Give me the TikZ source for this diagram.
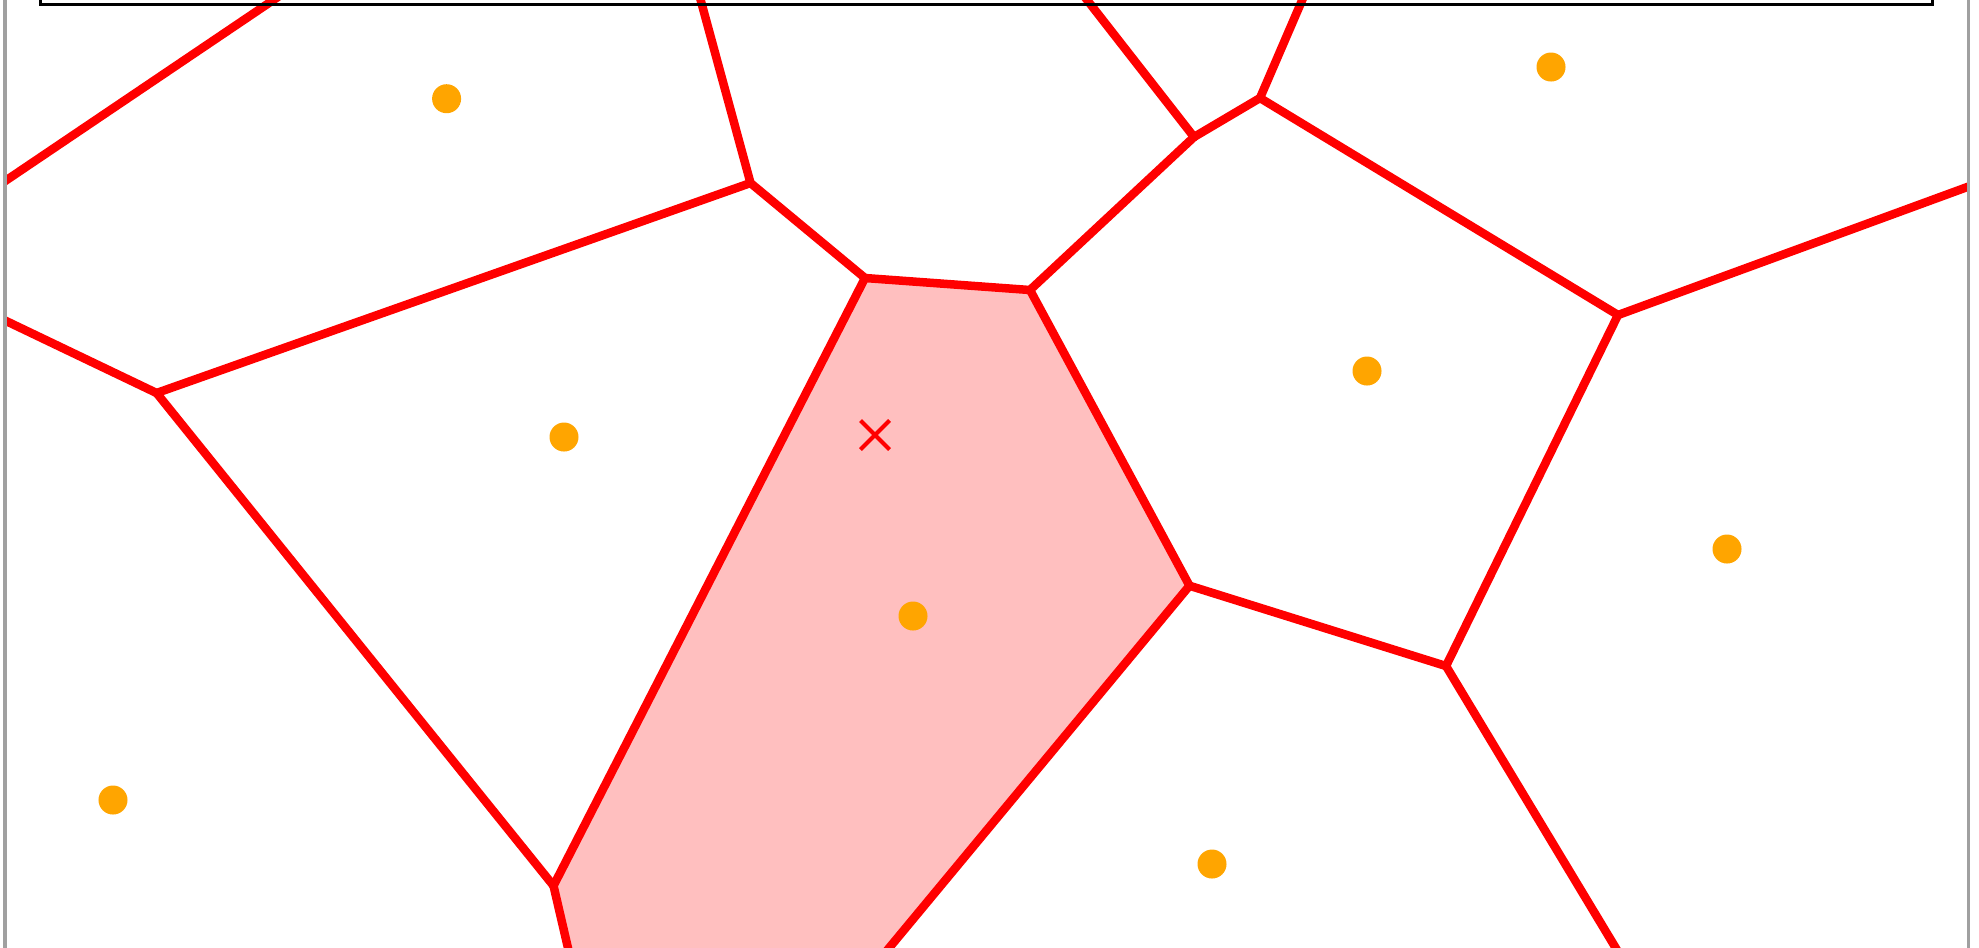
\documentclass[tikz,border=0pt]{standalone}
\usetikzlibrary{shapes.misc}
\definecolor{siteorange}{RGB}{255,165,0}
\definecolor{framegray}{RGB}{160,160,160}
\begin{document}
\begin{tikzpicture}[x=0.01cm,y=-0.01cm,
  vedge/.style={draw=red, line width=0.085cm, line cap=round},
  cellfill/.style={fill=red!25},
  site/.style={circle, fill=siteorange, inner sep=0pt, minimum size=0.29cm},
  qmark/.style={cross out, draw=red, line width=0.04cm, inner sep=0pt, minimum size=0.25cm},
  frameline/.style={draw=framegray, line width=0.03cm},
  boxline/.style={draw=black, line width=0.03cm}]
\useasboundingbox (0,0) rectangle (1979,947);
\clip (0,0) rectangle (1979,947);
% Voronoi vertices
\coordinate (D) at (156.6,393);
\coordinate (C) at (750.5,183);
\coordinate (E) at (865,278);
\coordinate (F) at (1030,290);
\coordinate (G) at (1194,137);
\coordinate (H) at (1260,98);
\coordinate (I) at (1618,315);
\coordinate (J) at (553.5,885.7);
\coordinate (K) at (1189.5,585.7);
\coordinate (L) at (1446,666);
% free ends (outside the visible area)
\coordinate (tlA) at (303,-20);
\coordinate (tlB) at (-20,198);
\coordinate (lD) at (-20,308.5);
\coordinate (tC) at (695.2,-20);
\coordinate (tG) at (1071.5,-20);
\coordinate (tH) at (1310.8,-20);
\coordinate (rI) at (2000,175);
\coordinate (bL) at (1629,970);
\coordinate (bK) at (870.8,970);
\coordinate (bJ) at (573.1,970);
% highlighted cell
\fill[cellfill] (E) -- (F) -- (K) -- (bK) -- (bJ) -- (J) -- cycle;
% edges
\begin{scope}
\clip (3,0) rectangle (1969,947);
\draw[vedge] (tlA) -- (tlB);
\draw[vedge] (lD) -- (D);
\draw[vedge] (D) -- (C);
\draw[vedge] (D) -- (J);
\draw[vedge] (C) -- (tC);
\draw[vedge] (C) -- (E);
\draw[vedge] (E) -- (F);
\draw[vedge] (F) -- (G);
\draw[vedge] (G) -- (tG);
\draw[vedge] (G) -- (H);
\draw[vedge] (H) -- (tH);
\draw[vedge] (H) -- (I);
\draw[vedge] (I) -- (rI);
\draw[vedge] (I) -- (L);
\draw[vedge] (L) -- (bL);
\draw[vedge] (L) -- (K);
\draw[vedge] (K) -- (F);
\draw[vedge] (K) -- (bK);
\draw[vedge] (E) -- (J);
\draw[vedge] (J) -- (bJ);
\end{scope}
% sites
\node[site] (sA) at (446.6,98.7) {};
\node[site] (sB) at (564,437) {};
\node[site] (sP) at (113,800) {};
\node[site] (sS) at (913,616) {};
\node[site] (sU) at (1212,864) {};
\node[site] (sR) at (1367,371) {};
\node[site] (sC) at (1551,67) {};
\node[site] (sT) at (1727,549) {};
% query point
\node[qmark] (q) at (875,435) {};
% frame
\coordinate (gl1) at (5,-10);
\coordinate (gl2) at (5,960);
\coordinate (gr1) at (1968.5,-10);
\coordinate (gr2) at (1968.5,960);
\draw[frameline] (gl1) -- (gl2);
\draw[frameline] (gr1) -- (gr2);
\coordinate (bx1) at (40.8,-60);
\coordinate (bx2) at (1932,4.8);
\draw[boxline] (bx1) rectangle (bx2);
\end{tikzpicture}
\end{document}
